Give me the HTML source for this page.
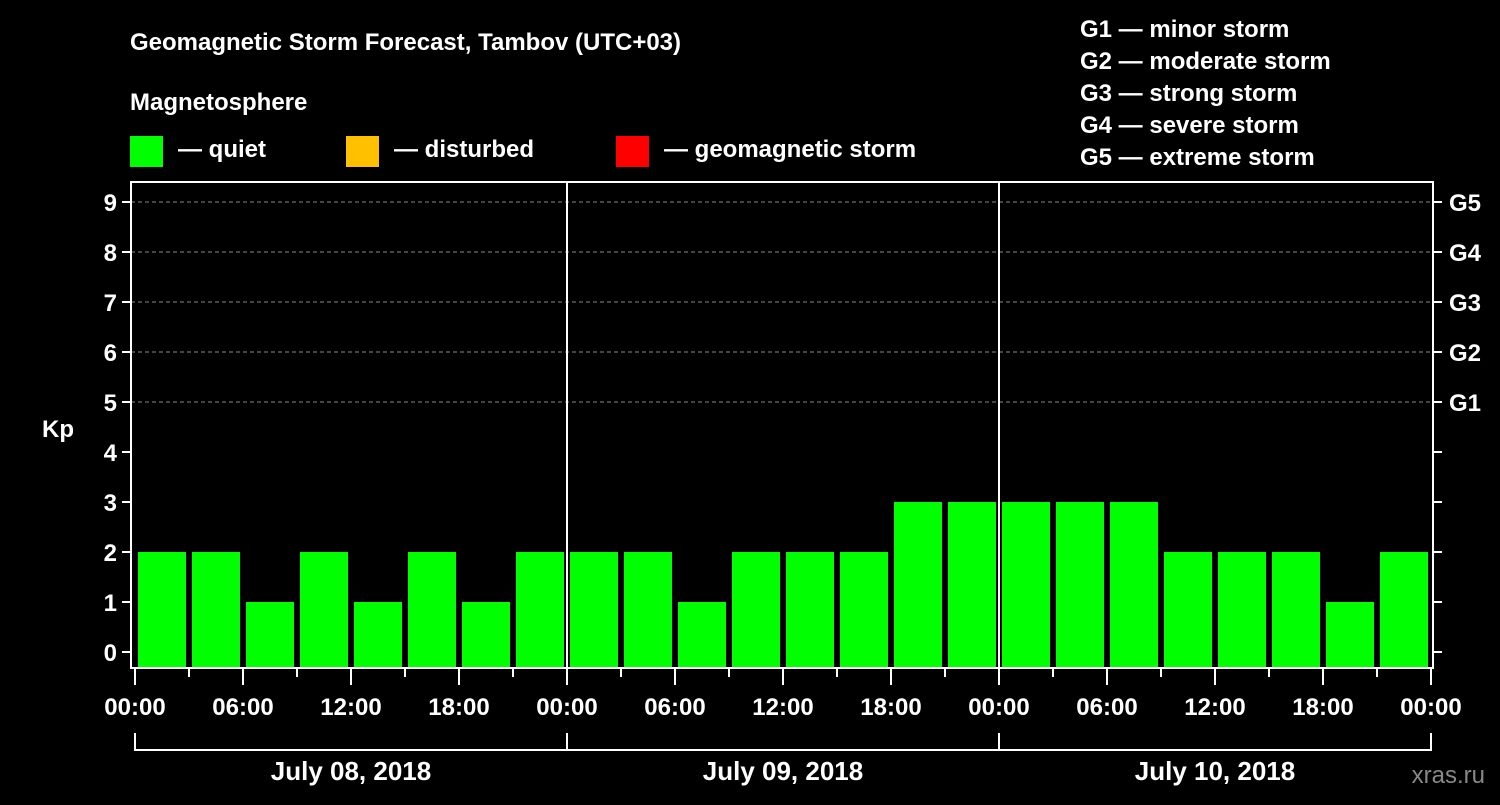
<!DOCTYPE html>
<html><head><meta charset="utf-8"><style>
body{margin:0;background:#000;width:1500px;height:800px;overflow:hidden}
svg text{font-family:"Liberation Sans",Arial,sans-serif;font-weight:bold;fill:#fff}
</style></head><body>
<svg id="c" width="1500" height="800">
<text x="130" y="50" font-size="24">Geomagnetic Storm Forecast, Tambov (UTC+03)</text>
<text x="130" y="110" font-size="24">Magnetosphere</text>
<rect x="130" y="136" width="33" height="31" fill="#00ff00"/>
<text x="178" y="157" font-size="24">— quiet</text>
<rect x="346" y="136" width="33" height="31" fill="#ffc000"/>
<text x="394" y="157" font-size="24">— disturbed</text>
<rect x="616" y="136" width="33" height="31" fill="#ff0000"/>
<text x="664" y="157" font-size="24">— geomagnetic storm</text>
<g font-size="24">
<text x="1080" y="37">G1 — minor storm</text>
<text x="1080" y="69">G2 — moderate storm</text>
<text x="1080" y="101">G3 — strong storm</text>
<text x="1080" y="133">G4 — severe storm</text>
<text x="1080" y="165">G5 — extreme storm</text>
</g>
<text x="42" y="437" font-size="24">Kp</text>
<text x="1485" y="783" font-size="24" text-anchor="end" fill="#888" style="fill:#888;font-weight:normal">xras.ru</text>
<g id="plot"></g>
</svg>
<script>
const kpValues=[2,2,1,2,1,2,1,2, 2,2,1,2,2,2,3,3, 3,3,3,2,2,2,1,2];
const yTicks=[0,1,2,3,4,5,6,7,8,9];
const gLabels={5:'G1',6:'G2',7:'G3',8:'G4',9:'G5'};
const hourLabels=['00:00','06:00','12:00','18:00'];
const dayLabels=['July 08, 2018','July 09, 2018','July 10, 2018'];
const NS='http://www.w3.org/2000/svg';
const g=document.getElementById('plot');
const L=131,R=1433,T=182,B=668,X0=135,PX3H=54;
const y=v=>652-50*v;
const x=i=>X0+PX3H*i;
function mk(t,a,txt){const e=document.createElementNS(NS,t);for(const k in a)e.setAttribute(k,a[k]);if(txt!==undefined)e.textContent=txt;g.appendChild(e);return e;}
// grid
yTicks.forEach(v=>{
 if(v>=5){const e=mk('line',{x1:L,x2:R,y1:y(v),y2:y(v),stroke:'#888','stroke-dasharray':'4,3','stroke-width':1});
 
 }
 const t=mk('line',{x1:L-9,x2:L,y1:y(v),y2:y(v),stroke:'#fff','stroke-width':2});
 
 
 const l=mk('text',{x:L-14,y:y(v)+9,'font-size':24,'text-anchor':'end'},String(v));
 
 
 const rt=mk('line',{x1:R,x2:R+9,y1:y(v),y2:y(v),stroke:'#fff','stroke-width':2});
 
 
 if(gLabels[v]){const gl=mk('text',{x:1449,y:y(v)+9,'font-size':24},gLabels[v]);
 
 }
});
// bars
kpValues.forEach((v,i)=>{
 const c=v>=5?'#ff0000':(v>=4?'#ffc000':'#00ff00');
 const b=mk('rect',{x:x(i)+3,y:y(v),width:48,height:B-y(v),fill:c});
 
 
});
// day separators
for(let d=1;d<dayLabels.length;d++){const s=mk('line',{x1:x(d*8),x2:x(d*8),y1:T,y2:B,stroke:'#fff','stroke-width':2});
 
 }
// frame
const f=mk('rect',{x:L,y:T,width:R-L,height:B-T,fill:'none',stroke:'#fff','stroke-width':2});


// x ticks
for(let i=0;i<=kpValues.length;i++){
 const major=i%2===0;
 const t=mk('line',{x1:x(i),x2:x(i),y1:B,y2:major?685:677,stroke:'#fff','stroke-width':2});
 
 
 if(major){const l=mk('text',{x:x(i),y:715,'font-size':24,'text-anchor':'middle'},hourLabels[(i/2)%4]);
 
 }
}
// day brackets
dayLabels.forEach((d,k)=>{
 const a=x(k*8),b2=x(k*8+8);
 const p=mk('path',{d:`M${a},733V750H${b2}`+(k==dayLabels.length-1?`V733`:''),fill:'none',stroke:'#fff','stroke-width':2});
 
 
 const l=mk('text',{x:(a+b2)/2,y:780,'font-size':26,'text-anchor':'middle'},d);
 
 
});
</script>
</body></html>
